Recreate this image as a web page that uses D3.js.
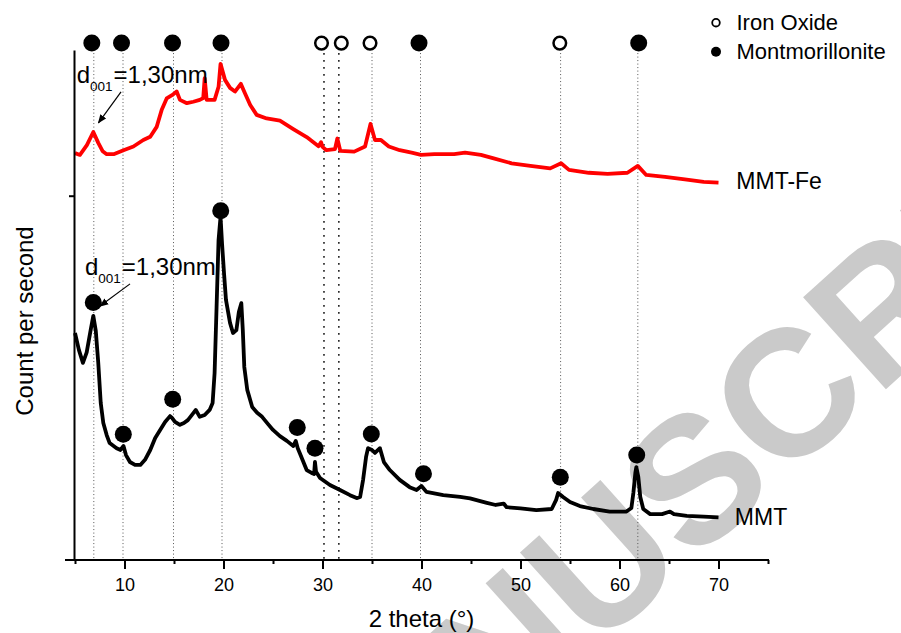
<!DOCTYPE html>
<html><head><meta charset="utf-8">
<script src="https://cdn.jsdelivr.net/npm/d3@7"></script>
<style>
body{margin:0;background:#fff}
svg{display:block;background:#fff}
text{font-family:"Liberation Sans",Arial,Helvetica,sans-serif}
</style>
</head><body>
<svg id="chart" width="901" height="633"></svg>
<script>
// ---- data (2 theta in degrees, intensity in counts per second) ----
const mmtData = [[5.0,623],[5.4,576],[5.8,541],[6.18,570],[6.58,631],[6.85,670],[7.1,629],[7.35,541],[7.6,431],[7.86,376],[8.2,343],[8.5,321],[9.2,307],[9.6,302],[9.9,313],[10.15,288],[10.55,269],[11.06,261],[11.6,261],[12.07,275],[12.6,302],[13.1,335],[13.6,357],[14.1,379],[14.6,395],[14.8,390],[15.1,379],[15.6,371],[16.0,376],[16.4,384],[16.95,403],[17.2,412],[17.6,393],[18.1,398],[18.6,412],[18.9,431],[19.1,513],[19.3,694],[19.5,878],[19.7,942],[19.85,870],[20.05,788],[20.25,714],[20.66,651],[20.96,623],[21.3,631],[21.55,681],[21.8,705],[21.95,631],[22.1,530],[22.4,467],[22.9,420],[23.4,404],[23.9,393],[24.5,373],[25.0,357],[25.7,340],[26.4,327],[27.05,313],[27.3,327],[27.5,307],[27.7,294],[28.4,247],[28.9,239],[29.15,236],[29.24,269],[29.35,242],[29.75,225],[30.75,206],[31.77,192],[32.78,178],[33.45,170],[33.8,173],[34.1,220],[34.4,283],[34.6,307],[35.0,302],[35.3,294],[35.8,307],[36.2,269],[36.8,247],[37.8,220],[38.8,200],[39.5,192],[40.0,203],[40.5,187],[42.2,178],[43.9,173],[44.9,169],[46.6,157],[47.5,151],[48.3,155],[48.6,145],[50.0,142],[51.6,137],[53.15,140],[53.6,165],[53.8,184],[54.3,173],[55.0,159],[56.0,148],[57.35,140],[59.0,133],[60.7,133],[61.2,143],[61.4,184],[61.6,239],[61.7,255],[61.9,228],[62.1,173],[62.4,140],[63.1,126],[64.3,126],[65.1,133],[65.5,126],[66.8,121],[68.5,119],[70.0,117]];

const mmtFeData = [[5.0,1117],[5.5,1112],[6.2,1139],[6.85,1175],[7.35,1145],[7.8,1122],[8.2,1114],[8.9,1114],[9.9,1125],[10.9,1135],[11.9,1153],[12.6,1162],[13.25,1189],[13.75,1235],[14.26,1267],[14.8,1276],[15.27,1286],[15.6,1263],[16.3,1254],[16.95,1258],[17.6,1263],[17.95,1268],[18.1,1323],[18.3,1263],[19.1,1263],[19.5,1299],[19.7,1362],[20.15,1318],[20.66,1296],[21.16,1286],[21.75,1307],[22.2,1279],[22.7,1249],[23.35,1222],[24.36,1212],[25.7,1206],[27.05,1183],[28.4,1161],[29.6,1136],[29.85,1147],[30.0,1134],[30.4,1125],[31.26,1128],[31.5,1157],[31.8,1123],[33.2,1121],[34.3,1135],[34.85,1197],[35.3,1153],[35.9,1153],[36.7,1135],[37.8,1125],[39.0,1118],[39.95,1112],[41.3,1114],[43.3,1114],[44.4,1118],[46.0,1112],[47.2,1103],[49.1,1089],[51.0,1082],[53.0,1075],[54.1,1089],[54.9,1071],[56.9,1063],[58.8,1060],[60.8,1063],[61.85,1082],[62.7,1057],[64.6,1052],[66.6,1045],[68.5,1038],[70.0,1036]];

// reference reflection positions (dotted guide lines)
const peakLines = [6.9, 9.85, 14.95, 19.85, 30.15, 31.65, 35.0, 39.9, 54.05, 61.85];
const coarseLines = [30.15, 31.65];
// phase markers on top row
const topMarkerX = [6.7, 9.7, 14.85, 19.75, 29.9, 31.9, 34.8, 39.75, 53.97, 61.94];
const topMarkerPhase = ["M","M","M","M","I","I","I","M","I","M"];
const topRowLevel = 1419;
// montmorillonite markers on MMT pattern
const mmtMarkers = [[6.85,707],[9.88,345],[14.87,441],[19.72,959],[27.45,364],[29.24,307],[34.93,346],[40.2,237],[54.02,227],[61.74,288]];

const xMajorTicks = [10,20,30,40,50,60,70];
const xMinorTicks = [5,15,25,35,45,55,65,75];
const yTicks = [1000];
const xDomain = [5,75];
const yDomain = [0,1400];

const seriesNames = ["MMT-Fe","MMT"];
const seriesLabelPos = [[71.8,1018],[71.65,96]];
const legendLabels = ["Iron Oxide","Montmorillonite"];
const annotText = ["d","001","=1,30nm"];
const annotPos = [[5.17,1309],[6.0,782]];
const arrowLines = [[[9.65,1285],[7.37,1200]],[[10.56,758],[7.53,697]]];
const xTitle = "2 theta (°)";
const yTitle = "Count per second";
const watermark = "ACCEPTED MANUSCRIPT";

// ---- drawing ----
const svg = d3.select("#chart");
const x = d3.scaleLinear().domain(xDomain).range([75,768]);
const y = d3.scaleLinear().domain(yDomain).range([560,50]);

// watermark (behind everything)
const wmFont = 180;
svg.append("text")
  .attr("transform","translate(290,926) rotate(-42)")
  .attr("x", -5.778*wmFont)
  .attr("font-size", wmFont).attr("font-weight",700)
  .attr("fill","#cacaca")
  .text(watermark);

// dotted guide lines
svg.append("g").selectAll("line").data(peakLines).join("line")
  .attr("x1", d=>x(d)).attr("x2", d=>x(d))
  .attr("y1", y(topRowLevel)+10).attr("y2", y(0))
  .attr("stroke", d=>coarseLines.includes(d) ? "#222" : "#555")
  .attr("stroke-width", d=>coarseLines.includes(d) ? 1.6 : 1)
  .attr("stroke-dasharray", d=>coarseLines.includes(d) ? "1.6,5.4" : "1,2.5");

// curves
const line = d3.line().x(d=>x(d[0])).y(d=>y(d[1]));
svg.append("path").datum(mmtFeData).attr("d", line)
  .attr("fill","none").attr("stroke","#ff0000").attr("stroke-width",3.8).attr("stroke-linejoin","round");
svg.append("path").datum(mmtData).attr("d", line)
  .attr("fill","none").attr("stroke","#000").attr("stroke-width",3.8).attr("stroke-linejoin","round");

// markers on MMT
svg.append("g").selectAll("circle").data(mmtMarkers).join("circle")
  .attr("cx", d=>x(d[0])).attr("cy", d=>y(d[1])).attr("r", 8.5).attr("fill","#000");

// top row markers
svg.append("g").selectAll("circle").data(topMarkerX).join("circle")
  .attr("cx", d=>x(d)).attr("cy", y(topRowLevel))
  .attr("r", (d,i)=>topMarkerPhase[i]==="M" ? 8.5 : 6.3)
  .attr("fill", (d,i)=>topMarkerPhase[i]==="M" ? "#000" : "#fff")
  .attr("stroke", "#000")
  .attr("stroke-width", (d,i)=>topMarkerPhase[i]==="M" ? 0 : 2.5);

// axes
const gx = svg.append("g").attr("transform","translate(0,"+y(0)+")");
gx.call(d3.axisBottom(x).tickValues(xMajorTicks).tickSize(9).tickPadding(9).tickSizeOuter(0).tickFormat(d3.format("d")));
gx.select(".domain").remove();
gx.selectAll(".tick line").attr("stroke","#000").attr("stroke-width",2);
gx.selectAll(".tick text").attr("font-size",18).attr("fill","#000").attr("font-family",null);
const gx2 = svg.append("g").attr("transform","translate(0,"+y(0)+")");
gx2.call(d3.axisBottom(x).tickValues(xMinorTicks).tickSize(4).tickSizeOuter(0).tickFormat(""));
gx2.select(".domain").remove();
gx2.selectAll(".tick line").attr("stroke","#000").attr("stroke-width",2);
svg.append("line").attr("x1", x(xDomain[0])-10).attr("x2", x(xDomain[1])+1)
  .attr("y1", y(0)).attr("y2", y(0)).attr("stroke","#000").attr("stroke-width",2);

const gy = svg.append("g").attr("transform","translate("+(x(xDomain[0])-1)+",0)");
gy.call(d3.axisLeft(y).tickValues(yTicks).tickSize(5).tickSizeOuter(0).tickFormat(""));
gy.select(".domain").attr("stroke","#000").attr("stroke-width",2);
gy.selectAll(".tick line").attr("stroke","#000").attr("stroke-width",2);

// axis titles
svg.append("text").attr("x", (x(xDomain[0])+x(xDomain[1]))/2).attr("y", 627)
  .attr("text-anchor","middle").attr("font-size",24).attr("fill","#000").text(xTitle);
svg.append("text").attr("transform","translate(33,321) rotate(-90)")
  .attr("text-anchor","middle").attr("font-size",24).attr("fill","#000").text(yTitle);

// series labels
svg.append("g").selectAll("text").data(seriesNames).join("text")
  .attr("x", (d,i)=>x(seriesLabelPos[i][0])).attr("y", (d,i)=>y(seriesLabelPos[i][1]))
  .attr("font-size",23).attr("fill","#000").text(d=>d);

// d001 annotations
annotPos.forEach(p=>{
  const t = svg.append("text").attr("x", x(p[0])).attr("y", y(p[1])).attr("font-size",24).attr("fill","#000");
  t.append("tspan").text(annotText[0]);
  t.append("tspan").attr("font-size",13.5).attr("dy",8).text(annotText[1]);
  t.append("tspan").attr("dy",-8).attr("dx",1).text(annotText[2]);
});
svg.append("defs").append("marker").attr("id","ah").attr("viewBox","0 0 10 10")
  .attr("refX",9).attr("refY",5).attr("markerWidth",9).attr("markerHeight",9)
  .attr("markerUnits","userSpaceOnUse").attr("orient","auto")
  .append("path").attr("d","M0,1 L10,5 L0,9 Z").attr("fill","#000");
svg.append("g").selectAll("line").data(arrowLines).join("line")
  .attr("x1", d=>x(d[0][0])).attr("y1", d=>y(d[0][1]))
  .attr("x2", d=>x(d[1][0])).attr("y2", d=>y(d[1][1]))
  .attr("stroke","#000").attr("stroke-width",1.2).attr("marker-end","url(#ah)");

// legend
const lg = svg.append("g");
legendLabels.forEach((lab,i)=>{
  const cy = 22.7 + i*29;
  lg.append("circle").attr("cx",716).attr("cy",cy)
    .attr("r", i===0 ? 3.8 : 5).attr("fill", i===0 ? "#fff" : "#000")
    .attr("stroke","#000").attr("stroke-width", i===0 ? 1.8 : 0);
  lg.append("text").attr("x",736.5).attr("y",cy+7.6).attr("font-size",22).attr("fill","#000").text(lab);
});
</script>
</body></html>
